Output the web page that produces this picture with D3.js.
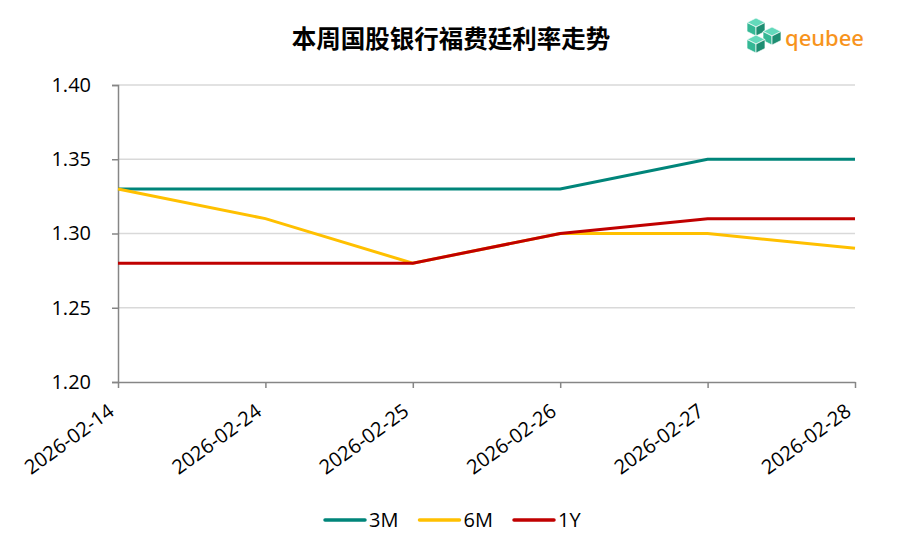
<!DOCTYPE html>
<html>
<head>
<meta charset="utf-8">
<script src="https://cdn.jsdelivr.net/npm/d3@7"></script>
<style>
  body { margin: 0; background: #fff; }
  svg { display: block; }
  text { font-family: "Open Sans", "Noto Sans", sans-serif; }
</style>
</head>
<body>
<svg id="chart" width="901" height="552"></svg>
<script>
// --- Data ---
const dates = ["2026-02-14", "2026-02-24", "2026-02-25", "2026-02-26", "2026-02-27", "2026-02-28"];
const seriesNames = ["3M", "6M", "1Y"];
const rate3M = [1.33, 1.33, 1.33, 1.33, 1.35, 1.35];
const rate6M = [1.33, 1.31, 1.28, 1.30, 1.30, 1.29];
const rate1Y = [1.28, 1.28, 1.28, 1.30, 1.31, 1.31];
const yTicks = [1.20, 1.25, 1.30, 1.35, 1.40];

const svg = d3.select("#chart");
const margin = { top: 85, right: 46, bottom: 170, left: 118 };
const width = +svg.attr("width");
const height = +svg.attr("height");
const font = "'Open Sans', 'Noto Sans', sans-serif";

const color = d3.scaleOrdinal()
  .domain(seriesNames)
  .range(["#00857a", "#ffc000", "#c00000"]);

const series = [
  { name: "3M", values: rate3M },
  { name: "6M", values: rate6M },
  { name: "1Y", values: rate1Y }
];

// --- Scales ---
const x = d3.scalePoint().domain(dates).range([margin.left, width - margin.right]);
const y = d3.scaleLinear().domain([1.20, 1.40]).range([height - margin.bottom, margin.top]);

// --- Grid lines ---
svg.append("g")
  .selectAll("line")
  .data(yTicks.filter(d => d > 1.20))
  .join("line")
  .attr("x1", margin.left)
  .attr("x2", width - margin.right)
  .attr("y1", d => y(d))
  .attr("y2", d => y(d))
  .attr("stroke", "#d9d9d9")
  .attr("stroke-width", 1.5);

// --- Axes ---
const yAxis = svg.append("g")
  .attr("transform", `translate(${margin.left},0)`)
  .call(d3.axisLeft(y).tickValues(yTicks).tickFormat(d3.format(".2f")).tickSize(6).tickPadding(21));
yAxis.attr("font-family", font).attr("font-size", 20);
yAxis.select(".domain").attr("stroke", "#868686").attr("stroke-width", 1.5);
yAxis.selectAll(".tick line").attr("stroke", "#868686").attr("stroke-width", 1.5);
yAxis.selectAll("text").attr("fill", "#000");

const xAxis = svg.append("g")
  .attr("transform", `translate(0,${height - margin.bottom})`)
  .call(d3.axisBottom(x).tickSize(6).tickSizeOuter(0));
xAxis.attr("font-family", font).attr("font-size", 20);
xAxis.select(".domain").attr("stroke", "#868686").attr("stroke-width", 1.5);
xAxis.selectAll(".tick line").attr("stroke", "#868686").attr("stroke-width", 1.5);
xAxis.selectAll("text")
  .attr("fill", "#000")
  .attr("text-anchor", "end")
  .attr("dy", null)
  .attr("y", 0)
  .attr("transform", "translate(-3,32) rotate(-36)");

// --- Lines ---
const line = d3.line()
  .x((d, i) => x(dates[i]))
  .y(d => y(d));

svg.append("g")
  .selectAll("path")
  .data(series)
  .join("path")
  .attr("fill", "none")
  .attr("stroke", d => color(d.name))
  .attr("stroke-width", 3)
  .attr("d", d => line(d.values));

// --- Title ---
svg.append("text")
  .attr("x", 451)
  .attr("y", 48)
  .attr("text-anchor", "middle")
  .style("font-family", "'Noto Sans CJK SC', sans-serif")
  .attr("font-weight", "bold")
  .attr("font-size", 24.5)
  .text("本周国股银行福费廷利率走势");

// --- Legend ---
const legend = svg.append("g").attr("transform", "translate(324,520)");
const legendItem = legend.selectAll("g")
  .data(seriesNames)
  .join("g")
  .attr("transform", (d, i) => `translate(${i * 94.5},0)`);
legendItem.append("line")
  .attr("x1", 1).attr("x2", 41)
  .attr("stroke", d => color(d))
  .attr("stroke-width", 3.5)
  .attr("stroke-linecap", "round");
legendItem.append("text")
  .attr("x", 45)
  .attr("dy", "0.36em")
  .attr("font-size", 20)
  .text(d => d);

// --- Logo ---
const logo = svg.append("g").attr("transform", "translate(747,18)");
const cube = (cx, cy, s) => [
  { pts: [[cx, cy - s], [cx + s, cy - s / 2], [cx, cy], [cx - s, cy - s / 2]], c: "#63d9bb" },
  { pts: [[cx - s, cy - s / 2], [cx, cy], [cx, cy + s], [cx - s, cy + s / 2]], c: "#34b895" },
  { pts: [[cx + s, cy - s / 2], [cx + s, cy + s / 2], [cx, cy + s], [cx, cy]], c: "#1e8e72" }
];
[[9, 9], [25, 18], [9, 26]].forEach(([cx, cy]) => {
  cube(cx, cy, 9).forEach(f => {
    logo.append("polygon")
      .attr("points", f.pts.map(p => p.join(",")).join(" "))
      .attr("fill", f.c)
      .attr("stroke", "#fff")
      .attr("stroke-width", 0.7);
  });
});
logo.append("text")
  .attr("x", 38)
  .attr("y", 28)
  .style("font-family", "'Noto Sans', sans-serif")
  .attr("font-weight", 500)
  .attr("font-size", 22)
  .attr("fill", "#f7941d")
  .text("qeubee");
</script>
</body>
</html>
